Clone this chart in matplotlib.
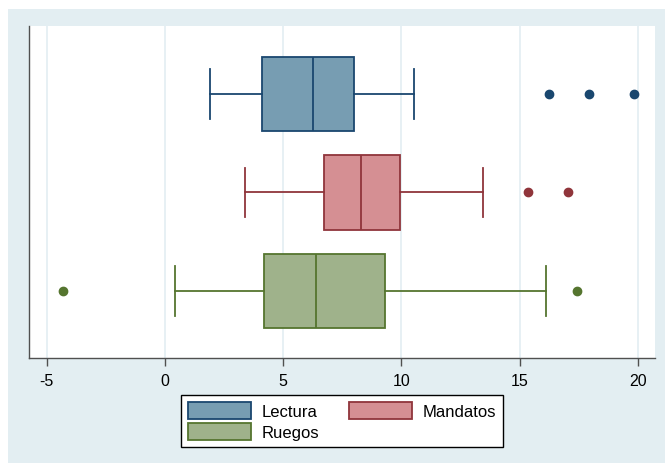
import matplotlib
matplotlib.use("Agg")
import matplotlib.pyplot as plt
from matplotlib.patches import Rectangle, Patch

plt.rcParams['font.family'] = ['Liberation Sans', 'DejaVu Sans']

# Box-plot summaries per category (whisker low, Q1, median, Q3, whisker high)
groups = ['Lectura', 'Mandatos', 'Ruegos']
whislo = [1.90, 3.41, 0.45]
q1 = [4.09, 6.72, 4.20]
med = [6.26, 8.31, 6.41]
q3 = [8.00, 9.96, 9.31]
whishi = [10.54, 13.44, 16.12]
fliers = [[16.25, 17.95, 19.82], [15.36, 17.06], [-4.31, 17.44]]

xticks = [-5, 0, 5, 10, 15, 20]

edge_colors = ['#1a476f', '#90353b', '#55752f']
fill_colors = ['#779db2', '#d58f93', '#9fb28b']
bg = '#e3eef2'

fig = plt.figure(figsize=(6.65, 4.64), dpi=100)
fig.patch.set_facecolor('white')
fig.patches.append(Rectangle((8 / 665, 0), 1, 1 - 10 / 464, transform=fig.transFigure,
                             facecolor=bg, edgecolor='none', zorder=-1))

ax = fig.add_axes([29 / 665, 105 / 464, 626 / 665, 332 / 464])
ax.set_zorder(1)
ax.set_facecolor('white')

for i, name in enumerate(groups):
    stats = [dict(label=name, whislo=whislo[i], q1=q1[i], med=med[i],
                  q3=q3[i], whishi=whishi[i], fliers=fliers[i])]
    c = edge_colors[i]
    ax.bxp(stats, positions=[i + 1], vert=False, widths=0.756, patch_artist=True,
           showfliers=True,
           boxprops=dict(facecolor=fill_colors[i], edgecolor=c, linewidth=1.3),
           medianprops=dict(color=c, linewidth=1.3),
           whiskerprops=dict(color=c, linewidth=1.3),
           capprops=dict(color=c, linewidth=1.3),
           capwidths=0.507,
           flierprops=dict(marker='o', markerfacecolor=c, markeredgecolor=c,
                           markersize=6, linestyle='none'))

ax.set_ylim(3.68, 0.31)
ax.set_xlim(-5.74, 20.72)
ax.set_yticks([])
ax.set_xticks(xticks)
ax.set_xticklabels([str(t) for t in xticks], fontsize=11.5)
ax.grid(axis='x', color=bg, linewidth=1.2)
ax.set_axisbelow(True)

for side in ['top', 'right']:
    ax.spines[side].set_visible(False)
for side in ['left', 'bottom']:
    ax.spines[side].set_color('#505050')
    ax.spines[side].set_linewidth(1.0)
ax.tick_params(axis='x', length=6, width=1.0, color='#505050', pad=5)

handles = [Patch(facecolor=fill_colors[i], edgecolor=edge_colors[i], linewidth=1.3, label=groups[i])
           for i in range(3)]
# column-wise fill: Lectura, Ruegos in first column, Mandatos in second
order = [0, 2, 1]
leg = fig.legend([handles[i] for i in order], [groups[i] for i in order],
                 loc='upper center', bbox_to_anchor=(342 / 665, 1 - 396 / 464), ncol=2,
                 fontsize=12, frameon=True, fancybox=False, edgecolor='black',
                 facecolor='white', framealpha=1, borderaxespad=0,
                 handlelength=3.8, handleheight=1.2, borderpad=0.4,
                 labelspacing=0.25, columnspacing=1.8, handletextpad=0.6)
leg.get_frame().set_linewidth(1.0)
leg.set_zorder(2)

fig.savefig('out.png', dpi=100, facecolor=fig.get_facecolor())
